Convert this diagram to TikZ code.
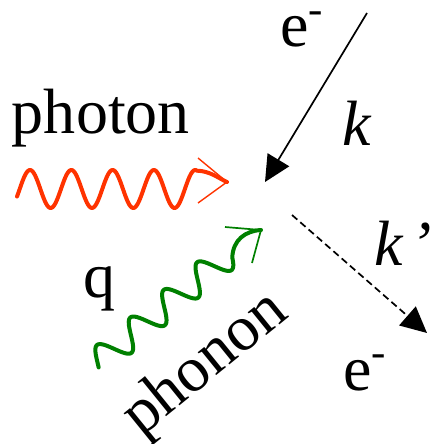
\documentclass[tikz,border=0pt]{standalone}
\usepackage{fontspec}
\setmainfont{Liberation Serif}
\usetikzlibrary{arrows.meta}
\definecolor{photonred}{RGB}{255,51,0}
\definecolor{phonongreen}{RGB}{0,128,0}
\begin{document}
\begin{tikzpicture}[x=1pt,y=-1pt,
  lbl/.style={inner sep=0pt, outer sep=0pt, anchor=base west, font=\fontsize{64}{64}\selectfont},
  eline/.style={line width=1.7pt, black},
  etip/.style={-{Triangle[length=26pt,width=25pt]}},
  photonwave/.style={photonred, line width=4pt, line join=round, line cap=round},
  photonbarb/.style={photonred, line width=1.4pt},
  phononwave/.style={phonongreen, line width=4pt, line join=round, line cap=round},
  phononbarb/.style={phonongreen, line width=1.7pt}]
\useasboundingbox (0,0) rectangle (432,444);

% labels
\node[lbl] (photon) at (12,133) {photon};
\node[lbl] (etop) at (280.5,47) {e\raisebox{23pt}{\fontsize{43}{43}\selectfont -}};
\node[lbl] (k) at (342,145) {\itshape k};
\node[lbl] (kp) at (374,265) {\itshape k\hspace{8pt}’};
\node[lbl] (ebot) at (343.5,390) {e\raisebox{24pt}{\fontsize{43}{43}\selectfont -}};
\node[lbl] (q) at (83.5,297) {q};
\node[lbl, anchor=center, rotate=39] (phonon) at (206,365) {phonon};

% electron lines
\coordinate (ein) at (367,13);
\coordinate (vin) at (265,182);
\coordinate (vout) at (292,215);
\coordinate (eout) at (427,333);
\draw[eline, etip] (ein) -- (vin);
\draw[eline, etip, dash pattern=on 7pt off 4pt] (vout) -- (eout);

% photon
\coordinate (phtip) at (227,182);
\coordinate (phb1) at (198,158);
\coordinate (phb2) at (198,203);
\draw[photonwave] plot[domain=17:197, samples=150] (\x, {189 - 19*sin(8.717*(\x-19.7))})
   .. controls (210,171) and (218,178) .. (phtip);
\draw[photonbarb] (phb1) -- (phtip) -- (phb2);

% phonon
\coordinate (pntip) at (261,230);
\coordinate (pnb1) at (225,227);
\coordinate (pnb2) at (252,263);
\draw[phononwave] plot[domain=-13:160, samples=160]
   ({105.9+0.771*\x - 8.918*cos(8.314*\x)}, {355.8-0.637*\x - 10.794*cos(8.314*\x)})
   .. controls (233,240) and (245,231) .. (pntip);
\draw[phononbarb] (pnb1) -- (pntip) -- (pnb2);
\end{tikzpicture}
\end{document}
